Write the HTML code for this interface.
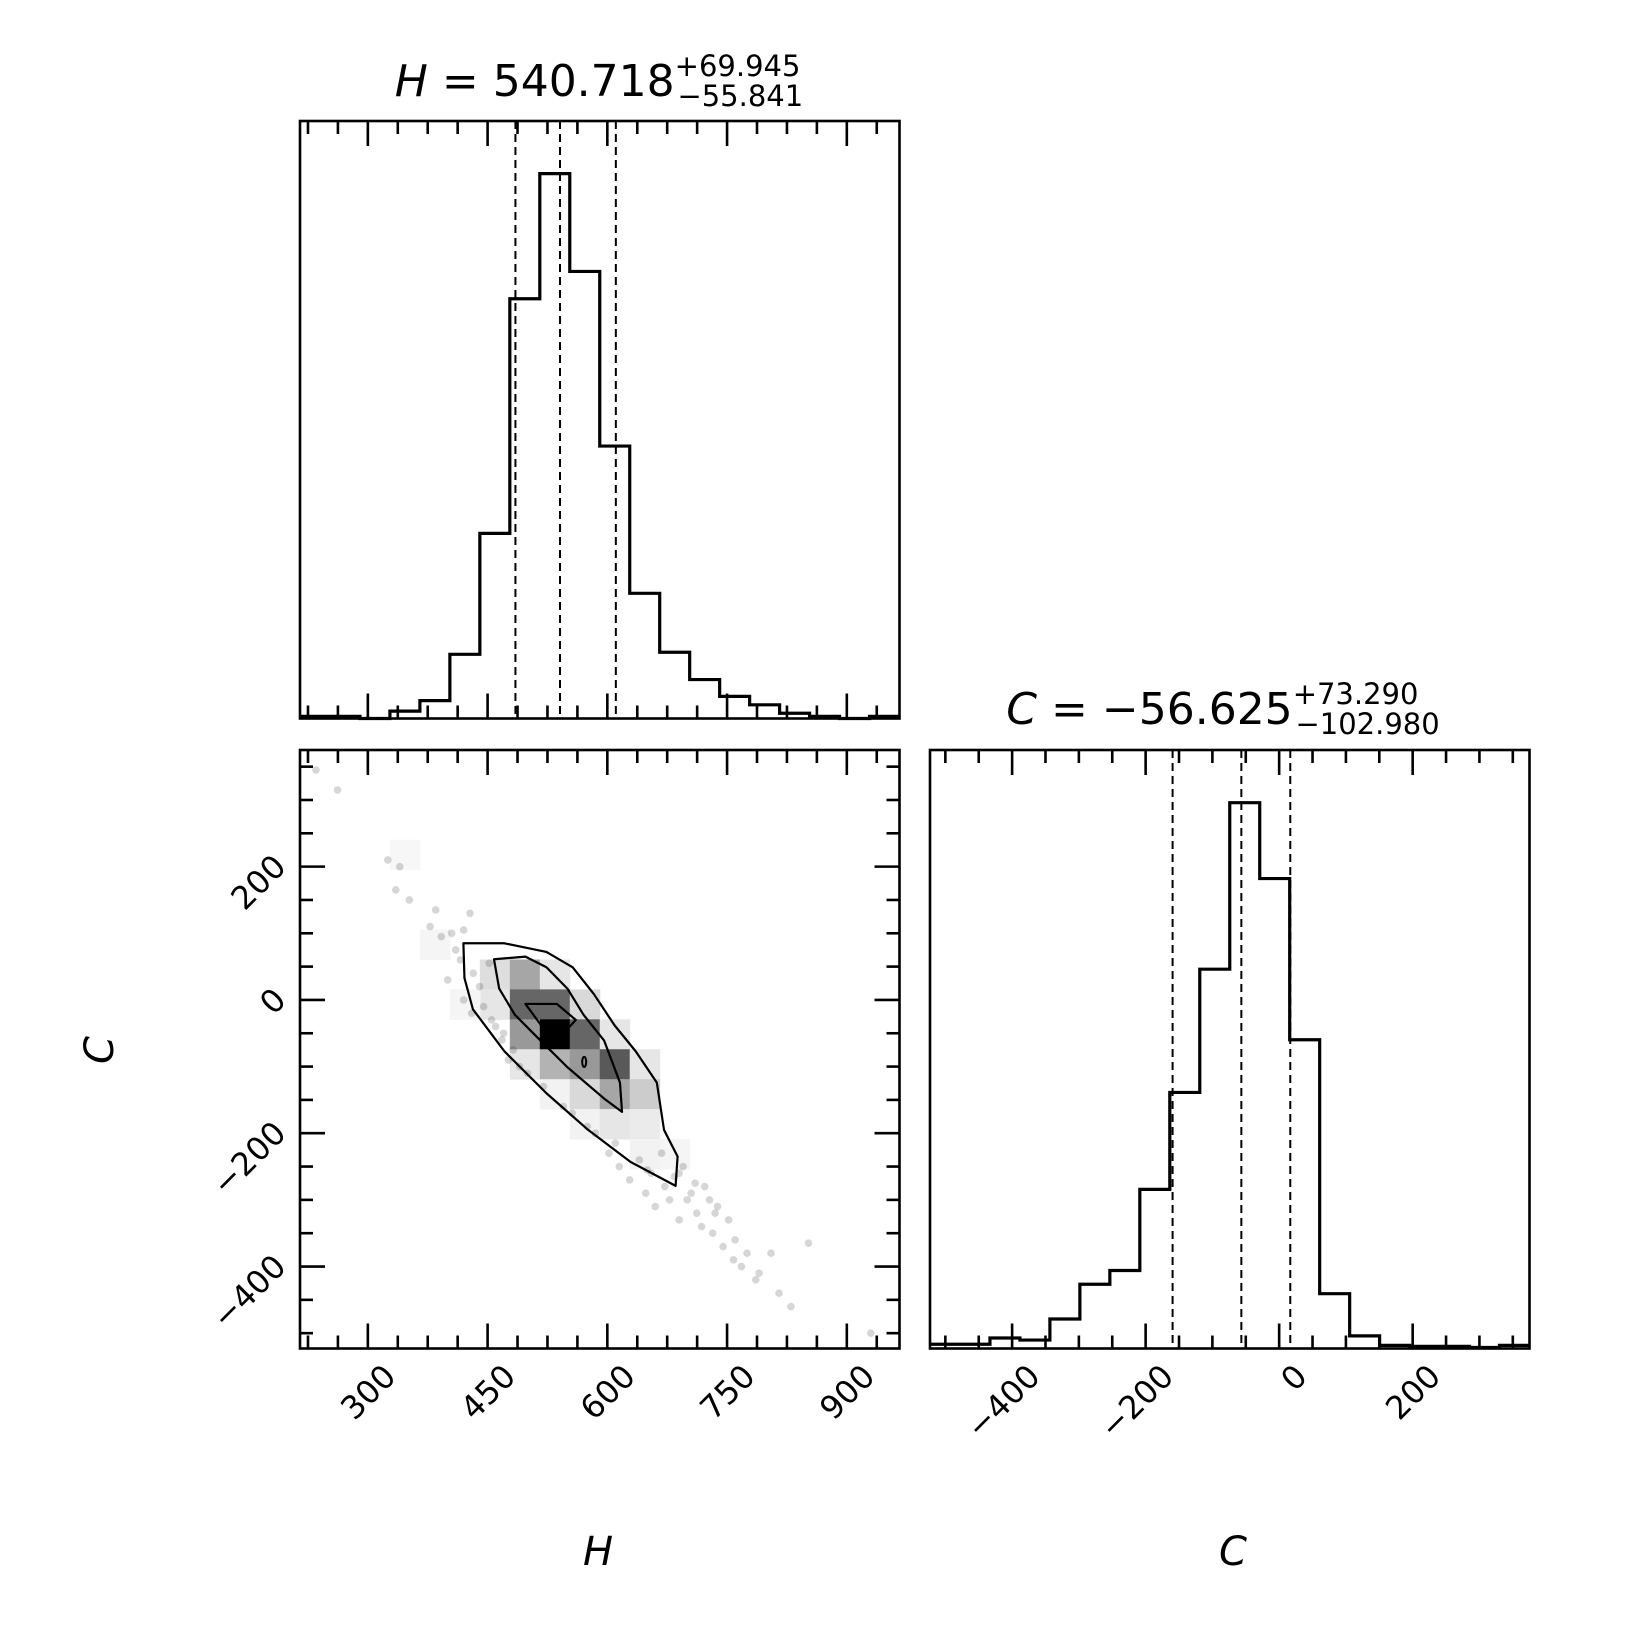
<!DOCTYPE html>
<html><head><meta charset="utf-8"><style>
html,body{margin:0;padding:0;background:#fff}
svg{display:block}
text{font-family:"DejaVu Sans","Liberation Sans",sans-serif;fill:#000}
</style></head><body>
<svg id="fig" width="1650" height="1650" viewBox="0 0 1650 1650" xmlns="http://www.w3.org/2000/svg"></svg>
<script>
// ---- data ----
const hRange=[215,966];
const cRange=[-523,375];
const hCounts=[2,2,0,7,17,61,176,399,518,425,259,119,63,37,21,13,5,2,0,2];
const cCounts=[4,4,10,8,28,61,74,151,243,360,518,446,293,52,12,3,2,2,1,3];
const hQuantiles=[484.877,540.718,610.663];
const cQuantiles=[-159.605,-56.625,16.665];
const hTicks=[300,450,600,750,900];
const cTicks=[-400,-200,0,200];
const cellCols=[6,7,8,6,7,8,9,7,8,9,10,7,8,9,10,11,8,9,10,11,9,10,11,3,4,5,11,12];
const cellRows=[7,7,7,8,8,8,8,9,9,9,9,10,10,10,10,10,11,11,11,11,12,12,12,3,6,8,13,13];
const cellDark=[0.13,0.35,0.1,0.1,0.6,0.6,0.15,0.4,1.0,0.6,0.1,0.1,0.3,0.4,0.65,0.1,0.05,0.15,0.35,0.2,0.05,0.1,0.08,0.03,0.04,0.04,0.05,0.04];
const outerH=[419.7,471,523.7,556.6,583,609,635.5,662,671,688,685.5,629,576,523.7,471,431.6,421];
const outerC=[85,85,72,49,9,-38,-77,-124,-195,-235,-279,-243,-195,-140,-77,-14,33];
const midH=[458,497.4,523.7,550,570,596,615.8,618.4,596,550,510.5,484,464.5];
const midC=[61,65,49,17,-22,-61,-124,-168,-148,-101,-54,-22,17];
const innerH=[497.4,536.8,560.5,536.8,517];
const innerC=[-6,-6,-30,-61,-38];
const ptsH=[235,262,325,335,340,352,378,385,392,405,410,416,420,428,432,440,452,455,460,468,476,482,500,556,585,602,615,628,640,648,655,660,668,672,678,684,690,695,700,705,712,718,722,728,732,738,745,752,758,760,768,775,786,790,805,815,830,852,930,420,445,400,430,470,490,520,545,575,610,650,690,710,735];
const ptsC=[345,315,210,165,200,150,110,135,95,100,75,60,105,130,40,20,55,-30,-40,-60,-90,-75,-110,-170,-200,-230,-250,-270,-240,-290,-260,-310,-230,-280,-300,-265,-330,-250,-300,-290,-320,-340,-280,-300,-350,-310,-370,-330,-390,-360,-400,-380,-420,-410,-380,-440,-460,-365,-500,0,-10,30,-20,-50,-100,-130,-160,-190,-215,-255,-260,-275,-320];
// ---- layout ----
const P={top:{x0:300,x1:899.5,y0:121,y1:718.5},ll:{x0:300,x1:899.5,y0:750,y1:1348.5},lr:{x0:930,x1:1529.5,y0:750,y1:1348.5}};
const svg=document.getElementById('fig');
const NS='http://www.w3.org/2000/svg';
function mk(tag,attrs,parent){const e=document.createElementNS(NS,tag);for(const k in attrs)e.setAttribute(k,attrs[k]);(parent||svg).appendChild(e);return e;}
function lin(d0,d1,r0,r1){return v=>r0+(v-d0)/(d1-d0)*(r1-r0);}
const xH=lin(hRange[0],hRange[1],P.ll.x0,P.ll.x1);
const yC=lin(cRange[0],cRange[1],P.ll.y1,P.ll.y0);
const xC=lin(cRange[0],cRange[1],P.lr.x0,P.lr.x1);
const histMax=568;

function hist(p,counts,xs,range,name){
  const g=mk('g',{});
  
  
  const yv=lin(0,histMax,p.y1,p.y0);
  const n=counts.length,w=(range[1]-range[0])/n;
  let d='';
  counts.forEach((c,i)=>{const a=xs(range[0]+i*w),b=xs(range[0]+(i+1)*w),y=yv(c);d+=(i===0?'M'+a+','+y:'L'+a+','+y)+'L'+b+','+y;});
  const path=mk('path',{d:d,fill:'none',stroke:'#000','stroke-width':3.2},g);
  
  
  return g;
}
function qlines(p,qs,xs,name){
  qs.forEach((q,i)=>{const l=mk('line',{x1:xs(q),x2:xs(q),y1:p.y0,y2:p.y1,stroke:'#000','stroke-width':2,'stroke-dasharray':'8,5'});
    
    });
}
function frame(p,name){const r=mk('rect',{x:p.x0,y:p.y0,width:p.x1-p.x0,height:p.y1-p.y0,fill:'none',stroke:'#000','stroke-width':2.6});
  
  }
function xticks(p,xs,range,major,minorStep,name){
  const g=mk('g',{stroke:'#000','stroke-width':2.6});
  
  
  const start=Math.ceil(range[0]/minorStep)*minorStep;
  for(let v=start;v<=range[1];v+=minorStep){
    const isMaj=major.some(m=>Math.abs(m-v)<1e-6);const L=isMaj?25:13;const x=xs(v);
    mk('line',{x1:x,x2:x,y1:p.y1,y2:p.y1-L},g);mk('line',{x1:x,x2:x,y1:p.y0,y2:p.y0+L},g);
  }
}
function yticks(p,ys,range,major,minorStep,name){
  const g=mk('g',{stroke:'#000','stroke-width':2.6});
  
  
  const start=Math.ceil(range[0]/minorStep)*minorStep;
  for(let v=start;v<=range[1];v+=minorStep){
    const isMaj=major.some(m=>Math.abs(m-v)<1e-6);const L=isMaj?25:13;const y=ys(v);
    mk('line',{x1:p.x0,x2:p.x0+L,y1:y,y2:y},g);mk('line',{x1:p.x1,x2:p.x1-L,y1:y,y2:y},g);
  }
}
function fmt(v){return v<0?'\u2212'+(-v):''+v;}
function xlabels(p,xs,ticks,name){
  ticks.forEach(t=>{const ax=xs(t)+22,ay=p.y1+22;
    const e=mk('text',{x:ax,y:ay,'font-size':32,'text-anchor':'end','dominant-baseline':'central',transform:'rotate(-45 '+ax+' '+ay+')'});
    e.textContent=fmt(t);
    
    });
}
function ylabels(p,ys,ticks,name){
  ticks.forEach(t=>{const ax=p.x0-20,ay=ys(t)-6;
    const e=mk('text',{x:ax,y:ay,'font-size':32,'text-anchor':'end','dominant-baseline':'central',transform:'rotate(-45 '+ax+' '+ay+')'});
    e.textContent=fmt(t);
    
    });
}
// ---- 2D panel ----
const cg=mk('g',{});


const hw=(hRange[1]-hRange[0])/20,cw=(cRange[1]-cRange[0])/20;
cellCols.forEach((c,i)=>{const r=cellRows[i];
  const xa=xH(hRange[0]+c*hw),xb=xH(hRange[0]+(c+1)*hw);
  const ya=yC(cRange[1]-r*cw),yb=yC(cRange[1]-(r+1)*cw);
  const g=Math.round(255*(1-cellDark[i]));
  const e=mk('rect',{x:xa,y:ya,width:xb-xa+0.5,height:yb-ya+0.5,fill:'rgb('+g+','+g+','+g+')'},cg);
  
  });
const pg=mk('g',{fill:'#000','fill-opacity':0.16});


ptsH.forEach((h,i)=>{const e=mk('circle',{cx:xH(h),cy:yC(ptsC[i]),r:3.8},pg);
  
  });
function contour(hs,cs,name){
  const d=hs.map((h,i)=>(i?'L':'M')+xH(h)+','+yC(cs[i])).join('')+'Z';
  const e=mk('path',{d:d,fill:'none',stroke:'#000','stroke-width':2.2,'stroke-linejoin':'round'});
  
  
}
contour(outerH,outerC,'contour-outer');
contour(midH,midC,'contour-middle');
contour(innerH,innerC,'contour-inner');
const pk=mk('ellipse',{cx:xH(571),cy:yC(-93),rx:2,ry:5,fill:'none',stroke:'#000','stroke-width':2});


frame(P.ll,'joint-panel-frame');
xticks(P.ll,xH,hRange,hTicks,37.5,'joint-x-ticks');
yticks(P.ll,yC,cRange,cTicks,50,'joint-y-ticks');
xlabels(P.ll,xH,hTicks,'h-tick-label');
ylabels(P.ll,yC,cTicks,'c-y-tick-label');
// ---- top hist ----
const xHt=lin(hRange[0],hRange[1],P.top.x0,P.top.x1);
hist(P.top,hCounts,xHt,hRange,'h-histogram');
qlines(P.top,hQuantiles,xHt,'h');
frame(P.top,'h-panel-frame');
xticks(P.top,xHt,hRange,hTicks,37.5,'h-hist-ticks');
// ---- right hist ----
hist(P.lr,cCounts,xC,cRange,'c-histogram');
qlines(P.lr,cQuantiles,xC,'c');
frame(P.lr,'c-panel-frame');
xticks(P.lr,xC,cRange,cTicks,50,'c-hist-ticks');
xlabels(P.lr,xC,cTicks,'c-x-tick-label');
// ---- titles & axis labels ----
function title(cx,y,sym,val,up,dn,name){
  const t=mk('text',{x:cx,y:y,'font-size':44,'text-anchor':'middle'});
  
  
  t.innerHTML='<tspan font-style="italic">'+sym+'</tspan> = '+val+'<tspan font-size="29" dy="-20">+'+up+'</tspan><tspan font-size="29" dx="-'+(up.length*17.5+18)+'" dy="30">\u2212'+dn+'</tspan>';
}
title(599,96,'H','540.718','69.945','55.841','h-title');
title(1223,724,'C','\u221256.625','73.290','102.980','c-title');
function lab(x,y,s,rot,name){const e=mk('text',{x:x,y:y,'font-size':40,'font-style':'italic','text-anchor':'middle','dominant-baseline':'central',transform:rot?'rotate(-90 '+x+' '+y+')':''});
  e.textContent=s;
  
  }
lab(598,1552,'H',false,'x-axis-title-h');
lab(1233,1552,'C',false,'x-axis-title-c');
lab(100,1050,'C',true,'y-axis-title-c');
</script>
</body></html>
